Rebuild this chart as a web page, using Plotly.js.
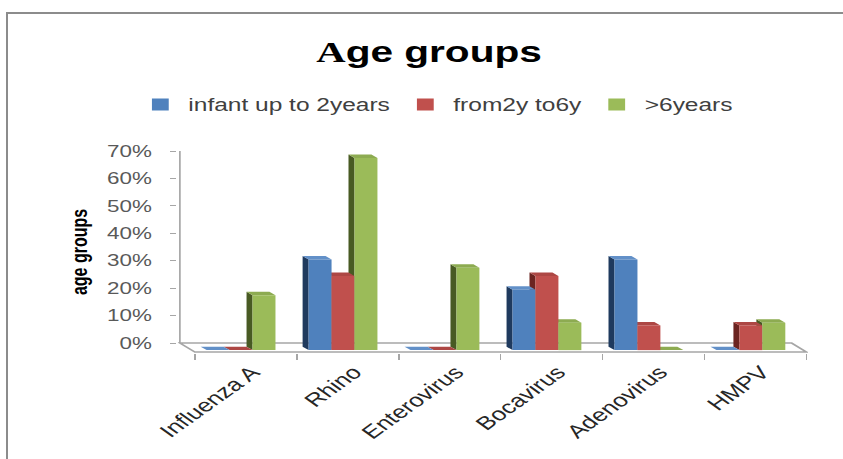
<!DOCTYPE html>
<html>
<head>
<meta charset="utf-8">
<script src="https://cdn.plot.ly/plotly-3.0.1.min.js"></script>
<style>
  html, body { margin: 0; padding: 0; background: #fff; overflow: hidden; width: 843px; height: 459px; }
  #stage { position: relative; width: 843px; height: 459px; overflow: hidden; background: #fff; }
  /* the chart is laid out narrow and widened, giving the wide lettering of the original sheet */
  #chart { position: absolute; left: 0; top: 0; width: 602px; height: 459px;
           transform: scaleX(1.40033); transform-origin: 0 0; }
  #frame { position: absolute; left: 6px; top: 12px; width: 900px; height: 500px;
           border-left: 2px solid #8c8c8c; border-top: 2px solid #8c8c8c; pointer-events: none; }
</style>
</head>
<body>
<div id="stage"><div id="chart"></div><div id="frame"></div></div>
<script>
// ---- data ----
const categories = ['Influenza A', 'Rhino', 'Enterovirus', 'Bocavirus', 'Adenovirus', 'HMPV'];
const seriesNames = ['infant up to 2years', 'from2y to6y', '>6years'];
const infantUpTo2 = [0, 0.33, 0, 0.22, 0.33, 0];
const from2to6 = [0, 0.27, 0, 0.27, 0.09, 0.09];
const over6 = [0.20, 0.70, 0.30, 0.10, 0, 0.10];
const yTickVals = [0, 0.1, 0.2, 0.3, 0.4, 0.5, 0.6, 0.7];
const yTickText = ['0%', '10%', '20%', '30%', '40%', '50%', '60%', '70%'];

// ---- styling ----
const series = [infantUpTo2, from2to6, over6];
const frontColors = ['#4f81bd', '#c0504d', '#9bbb59'];
const topColors = ['#6290c8', '#ad4744', '#8dab51'];
const sideColors = ['#1f3a5e', '#6b2421', '#485a23'];

// oblique "3-D" projection, expressed in axis units
const BAR_W = 0.225;                       // column width (category units)
const FLOOR_DX = 0.147, FLOOR_DY = 0.0328; // full floor depth
const FACE_DX = 0.10, FACE_DY = 0.0255;    // where the column fronts sit in depth
const SIDE_DX = 0.0588, SIDE_DY = 0.0127;  // column depth
const LABEL_DX = 0.06;                     // category labels sit just right of the floor centre

const nCat = categories.length;
const barCenter = (i, k) => i + (k - 1) * BAR_W + FACE_DX;
const pt = (x, y) => x.toFixed(4) + ',' + y.toFixed(4);

// column fronts
const traces = series.map((vals, k) => ({
  type: 'bar',
  name: seriesNames[k],
  x: categories.map((_, i) => barCenter(i, k)),
  y: vals,
  base: -FACE_DY,
  width: BAR_W,
  marker: { color: frontColors[k], line: { width: 0 } },
  hoverinfo: 'skip'
}));

// floor, wall edge, then the side and top faces of every column
const shapes = [];
shapes.push({
  type: 'path', xref: 'x', yref: 'y', layer: 'below',
  path: 'M' + pt(-0.5, 0) + 'L' + pt(nCat - 0.5, 0) +
        'L' + pt(nCat - 0.5 + FLOOR_DX, -FLOOR_DY) + 'L' + pt(-0.5 + FLOOR_DX, -FLOOR_DY) + 'Z',
  fillcolor: '#ffffff', line: { color: '#a6a6a6', width: 1.5 }
});
shapes.push({
  type: 'line', xref: 'x', yref: 'y', layer: 'below',
  x0: -0.5, x1: -0.5, y0: 0, y1: yTickVals[yTickVals.length - 1],
  line: { color: '#a6a6a6', width: 1.2 }
});
for (let i = 0; i < nCat; i++) {
  for (let k = series.length - 1; k >= 0; k--) {
    const v = series[k][i];
    const xL = barCenter(i, k) - BAR_W / 2, xR = xL + BAR_W;
    const yB = -FACE_DY, yT = v - FACE_DY;
    shapes.push({
      type: 'path', xref: 'x', yref: 'y', layer: 'below',
      path: 'M' + pt(xL, yB) + 'L' + pt(xL, yT) + 'L' + pt(xL - SIDE_DX, yT + SIDE_DY) +
            'L' + pt(xL - SIDE_DX, yB + SIDE_DY) + 'Z',
      fillcolor: sideColors[k], line: { width: 0 }
    });
    shapes.push({
      type: 'path', xref: 'x', yref: 'y', layer: 'below',
      path: 'M' + pt(xL, yT) + 'L' + pt(xR, yT) + 'L' + pt(xR - SIDE_DX, yT + SIDE_DY) +
            'L' + pt(xL - SIDE_DX, yT + SIDE_DY) + 'Z',
      fillcolor: topColors[k], line: { width: 0 }
    });
  }
}

const catTicks = categories.map((_, i) => i + FLOOR_DX + LABEL_DX);
const catBounds = [];
for (let i = -1; i < nCat; i++) catBounds.push(i + 0.5 + FLOOR_DX);

const layout = {
  width: 602, height: 459,
  margin: { l: 127.1, r: 25, t: 150.6, b: 106.1, pad: 0 },
  paper_bgcolor: 'rgba(0,0,0,0)', plot_bgcolor: 'rgba(0,0,0,0)',
  font: { family: 'Liberation Sans, Arial, sans-serif', color: '#404040' },
  title: {
    text: '<span style="font-family:serif">A</span>ge groups',
    font: { family: 'Liberation Sans, Arial, sans-serif', size: 29, weight: 700, color: '#000' },
    xref: 'container', yref: 'container', x: 0.509, xanchor: 'center', y: 0.887, yanchor: 'middle'
  },
  barmode: 'overlay',
  showlegend: true,
  legend: {
    orientation: 'h', x: 0.41, xanchor: 'center', y: 1.23, yanchor: 'middle',
    font: { size: 17.5, color: '#404040' }, bgcolor: 'rgba(0,0,0,0)', traceorder: 'normal'
  },
  xaxis: {
    range: [-0.52, nCat - 0.5 + FLOOR_DX + 0.013],
    showgrid: false, zeroline: false, showline: false,
    tickmode: 'array', tickvals: catTicks, ticktext: categories,
    ticks: '', tickangle: -45, ticklabelstandoff: 4,
    tickfont: { size: 18.5, color: '#262626' },
    minor: { tickmode: 'array', tickvals: catBounds, ticks: 'outside', ticklen: 6, tickwidth: 1, tickcolor: '#a6a6a6' }
  },
  yaxis: {
    range: [-0.036, 0.7],
    showgrid: false, zeroline: false, showline: false,
    tickmode: 'array', tickvals: yTickVals, ticktext: yTickText,
    ticks: 'outside', ticklen: 4.3, tickwidth: 1, tickcolor: '#a6a6a6',
    ticklabelstandoff: 10,
    tickfont: { size: 16, color: '#595959' },
    title: { text: 'age groups', standoff: 9, font: { size: 16, weight: 700, color: '#000' } }
  },
  shapes: shapes
};

Plotly.newPlot('chart', traces, layout, { displayModeBar: false, staticPlot: true });
</script>
</body>
</html>
